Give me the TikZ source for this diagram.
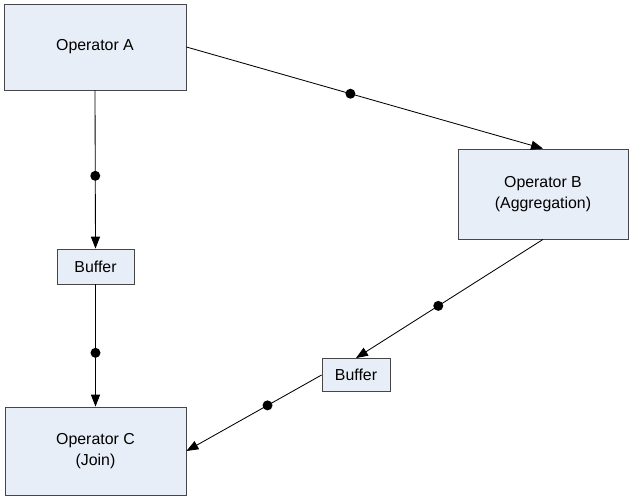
\documentclass[tikz,border=0pt]{standalone}
\usepackage{fontspec}
\setmainfont{Liberation Sans}
\usepackage{xcolor}
\usetikzlibrary{arrows.meta}

\definecolor{opfill}{RGB}{232,238,247}
\definecolor{opline}{RGB}{70,70,70}

\begin{document}
\begin{tikzpicture}[
  x=1cm,y=1cm,
  op/.style={draw=opline,fill=opfill,line width=0.6pt,align=center,
             font=\fontsize{11.3}{14.6}\selectfont,inner sep=0pt},
  buffer/.style={op},
  dot/.style={circle,fill=black,minimum size=0.25cm,inner sep=0pt},
  flow/.style={-{Triangle[length=8.5pt,width=6.5pt]},line width=0.6pt}
]
\useasboundingbox (0,0) rectangle (15.75,12.5);

\node[op,minimum width=4.55cm,minimum height=2.15cm] (opA) at (2.375,11.325) {Operator A};
\node[op,minimum width=4.25cm,minimum height=2.25cm] (opB) at (13.575,7.65) {Operator B\\(Aggregation)};
\node[op,minimum width=4.525cm,minimum height=2.2cm] (opC) at (2.3875,1.225) {Operator C\\(Join)};
\node[buffer,minimum width=1.925cm,minimum height=0.875cm] (buf1) at (2.3875,5.8375) {Buffer};
\node[buffer,minimum width=1.7cm,minimum height=0.825cm] (buf2) at (8.9,3.125) {Buffer};

\draw[flow] (opA.east) -- node[dot,pos=0.46] (d1) {} (opB.north);
\draw[flow] (opA.south) -- node[dot,pos=0.54] (d2) {} (buf1.north);
\draw[flow] (buf1.south) -- node[dot,pos=0.56] (d3) {} (opC.north);
\draw[flow] (opB.south) -- node[dot,pos=0.56] (d4) {} (buf2.north);
\draw[flow] (buf2.west) -- node[dot,pos=0.40] (d5) {} (opC.east);
\end{tikzpicture}
\end{document}
